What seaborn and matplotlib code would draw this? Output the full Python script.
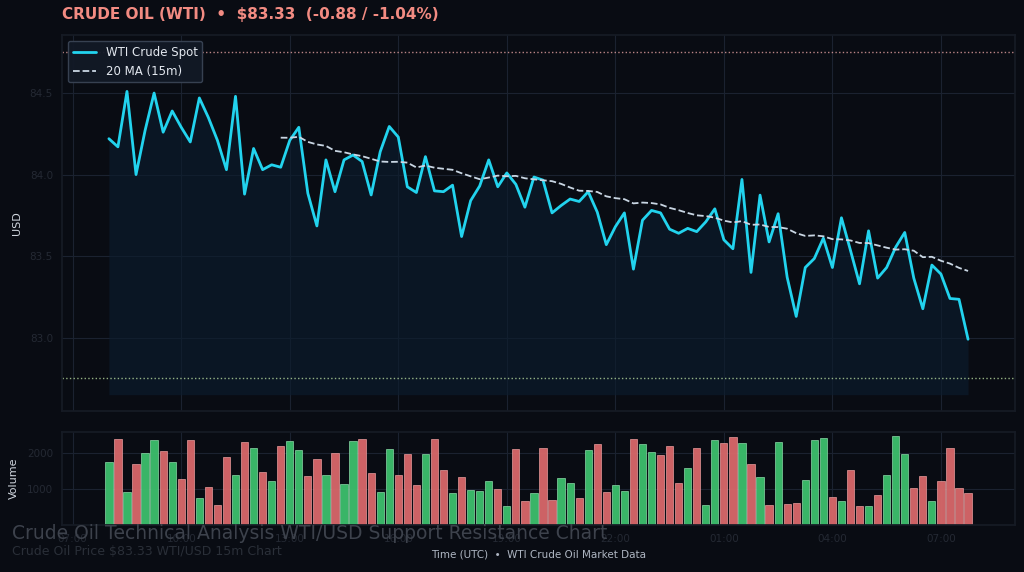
import numpy as np
import pandas as pd
import matplotlib
matplotlib.use("Agg")
import matplotlib.pyplot as plt
import matplotlib.dates as mdates
import seaborn as sns

# DATA (15m bars)

start_time = "2024-01-01 08:00"

price = [
    84.22, 84.17, 84.51, 84.00, 84.27, 84.50, 84.26, 84.39, 84.29, 84.20,
    84.47, 84.35, 84.21, 84.03, 84.48, 83.88, 84.16, 84.03, 84.06, 84.045,
    84.21, 84.29, 83.885, 83.685, 84.09, 83.895, 84.09, 84.12, 84.08, 83.875,
    84.14, 84.295, 84.23, 83.925, 83.89, 84.11, 83.90, 83.895, 83.935, 83.62,
    83.84, 83.93, 84.09, 83.925, 84.01, 83.94, 83.80, 83.985, 83.966, 83.765,
    83.81, 83.85, 83.835, 83.895, 83.77, 83.57, 83.68, 83.765, 83.42, 83.72,
    83.78, 83.765, 83.665, 83.64, 83.67, 83.65, 83.71, 83.79, 83.60, 83.545,
    83.97, 83.40, 83.874, 83.587, 83.76, 83.37, 83.13, 83.43, 83.485, 83.61,
    83.43, 83.735, 83.535, 83.33, 83.655, 83.365, 83.43, 83.555, 83.645, 83.365,
    83.177, 83.445, 83.39, 83.24, 83.235, 82.99,
]

volume = [
    1750, 2417, 926, 1704, 2009, 2380, 2065, 1769, 1287, 2380,
    759, 1065, 556, 1889, 1389, 2333, 2157, 1491, 1231, 2194,
    2361, 2093, 1361, 1833, 1407, 2009, 1148, 2361, 2398, 1444,
    926, 2111, 1389, 1991, 1130, 1991, 2417, 1546, 907, 1333,
    981, 954, 1222, 1019, 537, 2120, 657, 907, 2157, 704,
    1306, 1167, 759, 2093, 2259, 926, 1130, 963, 2417, 2259,
    2028, 1954, 2194, 1185, 1593, 2139, 556, 2389, 2296, 2463,
    2296, 1694, 1333, 556, 2315, 593, 620, 1259, 2380, 2435,
    796, 676, 1528, 519, 519, 843, 1389, 2500, 1981, 1046,
    1370, 676, 1241, 2139, 1046, 889,
]

resistance = 84.75
support = 82.75

title_text = "CRUDE OIL (WTI)  \u2022  $83.33  (-0.88 / -1.04%)"
watermark_1 = "Crude Oil Technical Analysis WTI/USD Support Resistance Chart"
watermark_2 = "Crude Oil Price $83.33 WTI/USD 15m Chart"

# FRAME

df = pd.DataFrame({
    "time": pd.date_range(start_time, periods=len(price), freq="15min"),
    "price": price,
    "volume": volume,
})
df["ma20"] = df["price"].rolling(20).mean()
df["up"] = df["price"].diff().fillna(1) > 0

# STYLE

BG = "#090c13"
GRID = "#1b2230"
TICK = "#242933"

sns.set_theme(style="dark")
plt.rcParams.update({
    "figure.facecolor": BG,
    "axes.facecolor": BG,
    "axes.edgecolor": "#161b25",
    "axes.grid": True,
    "grid.color": GRID,
    "grid.linewidth": 0.8,
    "xtick.color": "#262c36",
    "ytick.color": "#262c36",
    "xtick.labelcolor": TICK,
    "ytick.labelcolor": TICK,
    "xtick.labelsize": 7.5,
    "ytick.labelsize": 7.5,
    "font.size": 8,
})
plt.rcParams["font.family"] = ["DejaVu Sans"]

fig = plt.figure(figsize=(10.24, 5.72), dpi=100)
ax = fig.add_axes([0.0605, 0.2815, 0.9307, 0.657])
axv = fig.add_axes([0.0605, 0.0822, 0.9307, 0.1626], sharex=ax)

# PRICE PANEL

ax.fill_between(df["time"], df["price"], 82.65, color="#0c1c2e", alpha=0.65, lw=0)
sns.lineplot(data=df, x="time", y="price", ax=ax, color="#22d3ee", lw=2,
             label="WTI Crude Spot")
sns.lineplot(data=df, x="time", y="ma20", ax=ax, color="#c9d6e3", lw=1.3,
             linestyle="--", label="20 MA (15m)")
ax.axhline(resistance, color="#e8a3a3", lw=1, linestyle=":", alpha=0.8)
ax.axhline(support, color="#b9dca0", lw=1, linestyle=":", alpha=0.8)

ax.set_ylim(82.55, 84.855)
ax.set_yticks([83.0, 83.5, 84.0, 84.5])
ax.set_ylabel("USD", color="#d0d6de", fontsize=8)
ax.yaxis.set_label_coords(-0.042, 0.5)
ax.set_xlabel("")
ax.tick_params(axis="x", labelbottom=False, length=3)
ax.tick_params(axis="y", length=3)

leg = ax.legend(loc="upper left", fontsize=8.5, frameon=True,
                facecolor="#121926", edgecolor="#3a4455", framealpha=0.95)
for t in leg.get_texts():
    t.set_color("#e3e8ef")

# VOLUME PANEL

bar_colors = np.where(df["up"], "#3cbf6c", "#d9686a")
edge_colors = np.where(df["up"], "#8ee0ac", "#f0a0a0")
axv.bar(df["time"], df["volume"], width=0.8 / 96, color=bar_colors,
        edgecolor=edge_colors, linewidth=0.5, alpha=0.95)
axv.set_ylim(0, 2600)
axv.set_yticks([1000, 2000])
axv.set_ylabel("Volume", color="#d0d6de", fontsize=8)
axv.yaxis.set_label_coords(-0.045, 0.5)
axv.set_xlabel("Time (UTC)  \u2022  WTI Crude Oil Market Data",
               color="#aeb6c2", fontsize=7.5)
axv.xaxis.set_major_locator(mdates.HourLocator(byhour=[1, 4, 7, 10, 13, 16, 19, 22]))
axv.xaxis.set_major_formatter(mdates.DateFormatter("%H:%M"))
axv.tick_params(axis="both", length=3)

# TEXT

fig.text(0.0605, 0.974, title_text, color="#f28b82", fontsize=11,
         fontweight="bold", va="center", ha="left")
fig.text(0.012, 0.068, watermark_1, color="#3d424c",
         fontsize=13.5, va="center", ha="left")
fig.text(0.012, 0.035, watermark_2, color="#2a2f38",
         fontsize=9, va="center", ha="left")

fig.savefig("out.png", dpi=100, facecolor=BG)
